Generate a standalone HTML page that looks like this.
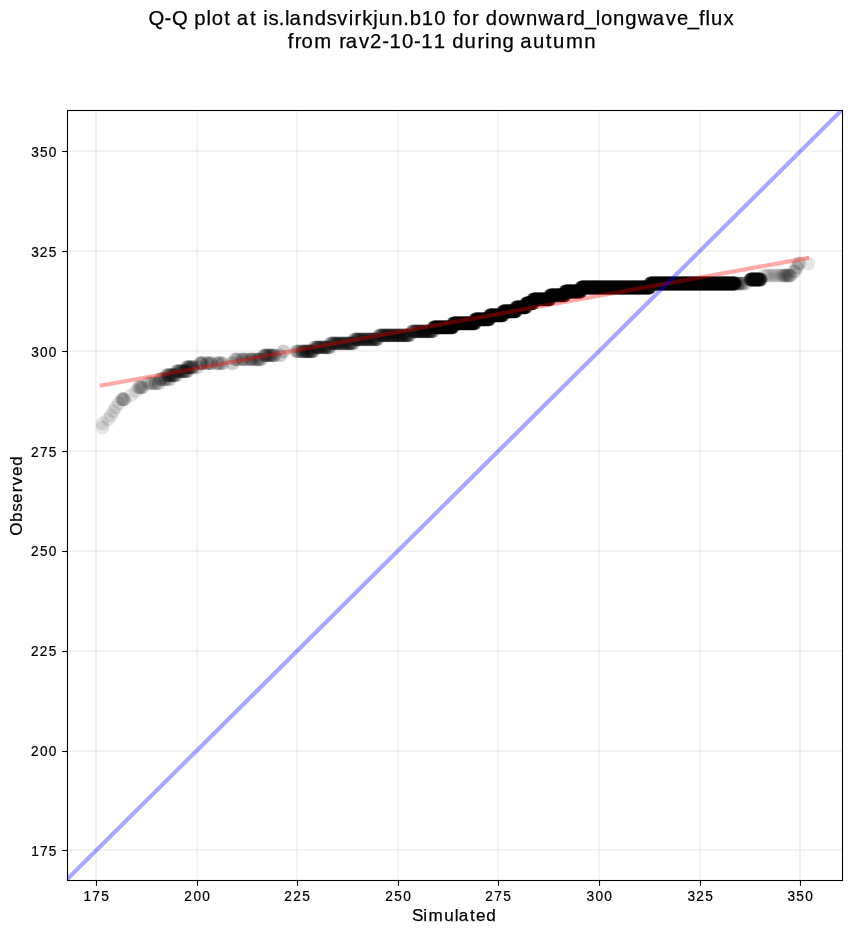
<!DOCTYPE html>
<html lang="en"><head><meta charset="utf-8"><title>Q-Q plot</title>
<style>
html,body{margin:0;padding:0;background:#fff;}
body{width:851px;height:934px;overflow:hidden;}
svg{display:block;}
text{font-family:"Liberation Sans",sans-serif;fill:#000;stroke:#000;stroke-width:0.25px;white-space:pre;}
.t{will-change:transform;}
</style></head><body>
<svg class="t" width="851" height="934" viewBox="0 0 851 934">
<defs><clipPath id="ax"><rect x="67.5" y="110.5" width="775.0" height="770.0"/></clipPath></defs>
<g fill="#b0b0b0" fill-opacity="0.15" shape-rendering="crispEdges" clip-path="url(#ax)">
<rect x="95" y="110.5" width="2" height="770.0"/><rect x="196" y="110.5" width="2" height="770.0"/><rect x="296" y="110.5" width="2" height="770.0"/><rect x="397" y="110.5" width="2" height="770.0"/><rect x="497" y="110.5" width="2" height="770.0"/><rect x="598" y="110.5" width="2" height="770.0"/><rect x="699" y="110.5" width="2" height="770.0"/><rect x="799" y="110.5" width="2" height="770.0"/>
<rect x="67.5" y="849" width="775.0" height="2"/><rect x="67.5" y="750" width="775.0" height="2"/><rect x="67.5" y="650" width="775.0" height="2"/><rect x="67.5" y="550" width="775.0" height="2"/><rect x="67.5" y="450" width="775.0" height="2"/><rect x="67.5" y="350" width="775.0" height="2"/><rect x="67.5" y="250" width="775.0" height="2"/><rect x="67.5" y="150" width="775.0" height="2"/>
</g>
<g fill="#000" fill-opacity="0.1" clip-path="url(#ax)">
<circle cx="102.4" cy="423.3" r="6.94"/><circle cx="102.4" cy="427.3" r="6.94"/><circle cx="108.2" cy="419.3" r="6.94"/><circle cx="110.9" cy="415.3" r="6.94"/><circle cx="113.5" cy="411.3" r="6.94"/><circle cx="115.6" cy="407.3" r="6.94"/>
<circle cx="118.8" cy="403.3" r="6.94"/><circle cx="121.8" cy="399.3" r="6.94"/><circle cx="122.6" cy="399.3" r="6.94"/><circle cx="123.2" cy="399.3" r="6.94"/><circle cx="123.9" cy="399.3" r="6.94"/><circle cx="124.6" cy="399.3" r="6.94"/>
<circle cx="131.0" cy="395.3" r="6.94"/><circle cx="136.2" cy="391.3" r="6.94"/><circle cx="138.5" cy="387.3" r="6.94"/><circle cx="139.5" cy="387.3" r="6.94"/><circle cx="140.3" cy="387.3" r="6.94"/><circle cx="141.0" cy="387.3" r="6.94"/>
<circle cx="141.8" cy="387.3" r="6.94"/><circle cx="142.8" cy="387.3" r="6.94"/><circle cx="148.1" cy="383.3" r="6.94"/><circle cx="149.0" cy="383.3" r="6.94"/><circle cx="151.6" cy="383.3" r="6.94"/><circle cx="152.1" cy="383.3" r="6.94"/>
<circle cx="154.6" cy="383.3" r="6.94"/><circle cx="155.5" cy="383.3" r="6.94"/><circle cx="155.9" cy="383.3" r="6.94"/><circle cx="158.7" cy="383.3" r="6.94"/><circle cx="158.9" cy="383.3" r="6.94"/><circle cx="160.3" cy="379.3" r="6.94"/>
<circle cx="160.5" cy="379.3" r="6.94"/><circle cx="161.5" cy="379.3" r="6.94"/><circle cx="163.3" cy="379.3" r="6.94"/><circle cx="164.6" cy="379.3" r="6.94"/><circle cx="165.3" cy="379.3" r="6.94"/><circle cx="165.8" cy="379.3" r="6.94"/>
<circle cx="166.2" cy="375.3" r="6.94"/><circle cx="166.9" cy="375.3" r="6.94"/><circle cx="167.6" cy="375.3" r="6.94"/><circle cx="167.8" cy="379.3" r="6.94"/><circle cx="168.4" cy="375.3" r="6.94"/><circle cx="168.7" cy="375.3" r="6.94"/>
<circle cx="168.8" cy="375.3" r="6.94"/><circle cx="169.4" cy="375.3" r="6.94"/><circle cx="169.6" cy="379.3" r="6.94"/><circle cx="169.7" cy="379.3" r="6.94"/><circle cx="170.3" cy="375.3" r="6.94"/><circle cx="171.3" cy="375.3" r="6.94"/>
<circle cx="171.7" cy="375.3" r="6.94"/><circle cx="172.5" cy="375.3" r="6.94"/><circle cx="173.2" cy="375.3" r="6.94"/><circle cx="173.5" cy="375.3" r="6.94"/><circle cx="174.2" cy="375.3" r="6.94"/><circle cx="174.3" cy="375.3" r="6.94"/>
<circle cx="174.8" cy="375.3" r="6.94"/><circle cx="175.7" cy="375.3" r="6.94"/><circle cx="176.2" cy="371.3" r="6.94"/><circle cx="176.6" cy="371.3" r="6.94"/><circle cx="177.0" cy="375.3" r="6.94"/><circle cx="177.6" cy="371.3" r="6.94"/>
<circle cx="178.0" cy="371.3" r="6.94"/><circle cx="178.4" cy="371.3" r="6.94"/><circle cx="179.7" cy="371.3" r="6.94"/><circle cx="180.1" cy="371.3" r="6.94"/><circle cx="180.2" cy="371.3" r="6.94"/><circle cx="181.2" cy="371.3" r="6.94"/>
<circle cx="181.7" cy="371.3" r="6.94"/><circle cx="182.8" cy="371.3" r="6.94"/><circle cx="183.2" cy="371.3" r="6.94"/><circle cx="183.2" cy="371.3" r="6.94"/><circle cx="184.2" cy="371.3" r="6.94"/><circle cx="184.8" cy="371.3" r="6.94"/>
<circle cx="185.2" cy="371.3" r="6.94"/><circle cx="186.0" cy="371.3" r="6.94"/><circle cx="186.3" cy="371.3" r="6.94"/><circle cx="186.5" cy="367.3" r="6.94"/><circle cx="187.0" cy="371.3" r="6.94"/><circle cx="187.1" cy="371.3" r="6.94"/>
<circle cx="187.1" cy="367.3" r="6.94"/><circle cx="187.4" cy="367.3" r="6.94"/><circle cx="188.2" cy="367.3" r="6.94"/><circle cx="188.4" cy="367.3" r="6.94"/><circle cx="189.2" cy="367.3" r="6.94"/><circle cx="189.6" cy="367.3" r="6.94"/>
<circle cx="190.1" cy="367.3" r="6.94"/><circle cx="190.5" cy="367.3" r="6.94"/><circle cx="191.6" cy="367.3" r="6.94"/><circle cx="192.2" cy="367.3" r="6.94"/><circle cx="192.2" cy="367.3" r="6.94"/><circle cx="192.9" cy="367.3" r="6.94"/>
<circle cx="193.0" cy="367.3" r="6.94"/><circle cx="196.3" cy="367.3" r="6.94"/><circle cx="197.8" cy="367.3" r="6.94"/><circle cx="200.3" cy="363.3" r="6.94"/><circle cx="200.5" cy="363.3" r="6.94"/><circle cx="200.7" cy="363.3" r="6.94"/>
<circle cx="201.4" cy="363.3" r="6.94"/><circle cx="202.3" cy="363.3" r="6.94"/><circle cx="202.7" cy="363.3" r="6.94"/><circle cx="206.8" cy="363.3" r="6.94"/><circle cx="207.1" cy="363.3" r="6.94"/><circle cx="207.9" cy="363.3" r="6.94"/>
<circle cx="208.6" cy="363.3" r="6.94"/><circle cx="210.5" cy="363.3" r="6.94"/><circle cx="210.9" cy="363.3" r="6.94"/><circle cx="211.6" cy="363.3" r="6.94"/><circle cx="216.7" cy="363.3" r="6.94"/><circle cx="217.9" cy="363.3" r="6.94"/>
<circle cx="218.7" cy="363.3" r="6.94"/><circle cx="219.6" cy="363.3" r="6.94"/><circle cx="220.8" cy="363.3" r="6.94"/><circle cx="222.5" cy="363.3" r="6.94"/><circle cx="223.0" cy="363.3" r="6.94"/><circle cx="232.0" cy="363.3" r="6.94"/>
<circle cx="232.8" cy="363.3" r="6.94"/><circle cx="235.0" cy="359.4" r="6.94"/><circle cx="235.6" cy="359.4" r="6.94"/><circle cx="236.9" cy="359.4" r="6.94"/><circle cx="238.2" cy="359.4" r="6.94"/><circle cx="241.6" cy="359.4" r="6.94"/>
<circle cx="242.0" cy="359.4" r="6.94"/><circle cx="243.4" cy="359.4" r="6.94"/><circle cx="243.6" cy="359.4" r="6.94"/><circle cx="245.3" cy="359.4" r="6.94"/><circle cx="246.8" cy="359.4" r="6.94"/><circle cx="249.2" cy="359.4" r="6.94"/>
<circle cx="250.7" cy="359.4" r="6.94"/><circle cx="250.9" cy="359.4" r="6.94"/><circle cx="251.2" cy="359.4" r="6.94"/><circle cx="253.1" cy="359.4" r="6.94"/><circle cx="253.9" cy="359.4" r="6.94"/><circle cx="255.2" cy="359.4" r="6.94"/>
<circle cx="257.0" cy="359.4" r="6.94"/><circle cx="257.3" cy="359.4" r="6.94"/><circle cx="257.9" cy="359.4" r="6.94"/><circle cx="259.0" cy="359.4" r="6.94"/><circle cx="259.6" cy="359.4" r="6.94"/><circle cx="260.1" cy="359.4" r="6.94"/>
<circle cx="262.0" cy="359.4" r="6.94"/><circle cx="263.8" cy="355.4" r="6.94"/><circle cx="264.7" cy="355.4" r="6.94"/><circle cx="265.3" cy="355.4" r="6.94"/><circle cx="265.3" cy="355.4" r="6.94"/><circle cx="266.1" cy="355.4" r="6.94"/>
<circle cx="266.3" cy="355.4" r="6.94"/><circle cx="267.7" cy="355.4" r="6.94"/><circle cx="267.9" cy="355.4" r="6.94"/><circle cx="268.4" cy="355.4" r="6.94"/><circle cx="269.4" cy="355.4" r="6.94"/><circle cx="270.0" cy="355.4" r="6.94"/>
<circle cx="271.0" cy="355.4" r="6.94"/><circle cx="271.3" cy="355.4" r="6.94"/><circle cx="271.9" cy="355.4" r="6.94"/><circle cx="272.9" cy="355.4" r="6.94"/><circle cx="273.5" cy="355.4" r="6.94"/><circle cx="274.7" cy="355.4" r="6.94"/>
<circle cx="274.8" cy="355.4" r="6.94"/><circle cx="279.5" cy="355.4" r="6.94"/><circle cx="280.4" cy="355.4" r="6.94"/><circle cx="283.0" cy="351.4" r="6.94"/><circle cx="284.0" cy="351.4" r="6.94"/><circle cx="296.0" cy="351.4" r="6.94"/>
<circle cx="296.7" cy="351.4" r="6.94"/><circle cx="297.7" cy="351.4" r="6.94"/><circle cx="298.5" cy="351.4" r="6.94"/><circle cx="298.9" cy="351.4" r="6.94"/><circle cx="301.1" cy="351.4" r="6.94"/><circle cx="301.9" cy="351.4" r="6.94"/>
<circle cx="302.1" cy="351.4" r="6.94"/><circle cx="302.8" cy="351.4" r="6.94"/><circle cx="302.8" cy="351.4" r="6.94"/><circle cx="304.0" cy="351.4" r="6.94"/><circle cx="304.5" cy="351.4" r="6.94"/><circle cx="304.8" cy="351.4" r="6.94"/>
<circle cx="305.6" cy="351.4" r="6.94"/><circle cx="305.9" cy="351.4" r="6.94"/><circle cx="305.9" cy="351.4" r="6.94"/><circle cx="307.3" cy="351.4" r="6.94"/><circle cx="307.3" cy="351.4" r="6.94"/><circle cx="307.3" cy="351.4" r="6.94"/>
<circle cx="308.0" cy="351.4" r="6.94"/><circle cx="308.1" cy="351.4" r="6.94"/><circle cx="309.0" cy="351.4" r="6.94"/><circle cx="309.9" cy="351.4" r="6.94"/><circle cx="310.2" cy="351.4" r="6.94"/><circle cx="310.4" cy="351.4" r="6.94"/>
<circle cx="310.5" cy="351.4" r="6.94"/><circle cx="311.0" cy="351.4" r="6.94"/><circle cx="311.2" cy="351.4" r="6.94"/><circle cx="312.3" cy="351.4" r="6.94"/><circle cx="312.5" cy="351.4" r="6.94"/><circle cx="313.1" cy="351.4" r="6.94"/>
<circle cx="313.1" cy="351.4" r="6.94"/><circle cx="314.0" cy="347.4" r="6.94"/><circle cx="315.2" cy="347.4" r="6.94"/><circle cx="316.0" cy="347.4" r="6.94"/><circle cx="316.3" cy="347.4" r="6.94"/><circle cx="316.8" cy="347.4" r="6.94"/>
<circle cx="317.3" cy="347.4" r="6.94"/><circle cx="317.7" cy="347.4" r="6.94"/><circle cx="317.8" cy="347.4" r="6.94"/><circle cx="318.6" cy="347.4" r="6.94"/><circle cx="318.9" cy="347.4" r="6.94"/><circle cx="319.0" cy="347.4" r="6.94"/>
<circle cx="319.5" cy="347.4" r="6.94"/><circle cx="320.4" cy="347.4" r="6.94"/><circle cx="320.9" cy="347.4" r="6.94"/><circle cx="322.0" cy="347.4" r="6.94"/><circle cx="322.7" cy="347.4" r="6.94"/><circle cx="322.9" cy="347.4" r="6.94"/>
<circle cx="323.9" cy="347.4" r="6.94"/><circle cx="324.5" cy="347.4" r="6.94"/><circle cx="324.8" cy="347.4" r="6.94"/><circle cx="325.0" cy="347.4" r="6.94"/><circle cx="325.1" cy="347.4" r="6.94"/><circle cx="325.7" cy="347.4" r="6.94"/>
<circle cx="326.1" cy="347.4" r="6.94"/><circle cx="326.7" cy="347.4" r="6.94"/><circle cx="327.8" cy="347.4" r="6.94"/><circle cx="328.6" cy="347.4" r="6.94"/><circle cx="329.1" cy="347.4" r="6.94"/><circle cx="329.2" cy="347.4" r="6.94"/>
<circle cx="329.9" cy="347.4" r="6.94"/><circle cx="330.3" cy="343.4" r="6.94"/><circle cx="330.6" cy="343.4" r="6.94"/><circle cx="331.5" cy="343.4" r="6.94"/><circle cx="332.3" cy="343.4" r="6.94"/><circle cx="332.7" cy="343.4" r="6.94"/>
<circle cx="333.2" cy="343.4" r="6.94"/><circle cx="333.4" cy="343.4" r="6.94"/><circle cx="333.5" cy="343.4" r="6.94"/><circle cx="334.7" cy="343.4" r="6.94"/><circle cx="334.8" cy="343.4" r="6.94"/><circle cx="335.9" cy="343.4" r="6.94"/>
<circle cx="336.4" cy="343.4" r="6.94"/><circle cx="336.6" cy="343.4" r="6.94"/><circle cx="336.9" cy="343.4" r="6.94"/><circle cx="338.1" cy="343.4" r="6.94"/><circle cx="338.2" cy="343.4" r="6.94"/><circle cx="338.4" cy="343.4" r="6.94"/>
<circle cx="338.7" cy="343.4" r="6.94"/><circle cx="339.2" cy="343.4" r="6.94"/><circle cx="340.7" cy="343.4" r="6.94"/><circle cx="340.8" cy="343.4" r="6.94"/><circle cx="341.1" cy="343.4" r="6.94"/><circle cx="342.1" cy="343.4" r="6.94"/>
<circle cx="342.9" cy="343.4" r="6.94"/><circle cx="343.0" cy="343.4" r="6.94"/><circle cx="343.1" cy="343.4" r="6.94"/><circle cx="343.9" cy="343.4" r="6.94"/><circle cx="343.9" cy="343.4" r="6.94"/><circle cx="344.3" cy="343.4" r="6.94"/>
<circle cx="346.0" cy="343.4" r="6.94"/><circle cx="346.1" cy="343.4" r="6.94"/><circle cx="346.5" cy="343.4" r="6.94"/><circle cx="347.4" cy="343.4" r="6.94"/><circle cx="347.5" cy="343.4" r="6.94"/><circle cx="348.5" cy="343.4" r="6.94"/>
<circle cx="348.7" cy="343.4" r="6.94"/><circle cx="348.9" cy="343.4" r="6.94"/><circle cx="349.3" cy="343.4" r="6.94"/><circle cx="349.8" cy="343.4" r="6.94"/><circle cx="350.3" cy="343.4" r="6.94"/><circle cx="351.2" cy="343.4" r="6.94"/>
<circle cx="351.4" cy="343.4" r="6.94"/><circle cx="352.1" cy="343.4" r="6.94"/><circle cx="352.2" cy="343.4" r="6.94"/><circle cx="353.6" cy="343.4" r="6.94"/><circle cx="353.7" cy="343.4" r="6.94"/><circle cx="354.2" cy="339.4" r="6.94"/>
<circle cx="354.8" cy="339.4" r="6.94"/><circle cx="355.6" cy="339.4" r="6.94"/><circle cx="355.7" cy="339.4" r="6.94"/><circle cx="356.6" cy="339.4" r="6.94"/><circle cx="356.6" cy="339.4" r="6.94"/><circle cx="357.2" cy="339.4" r="6.94"/>
<circle cx="357.5" cy="339.4" r="6.94"/><circle cx="357.6" cy="339.4" r="6.94"/><circle cx="358.5" cy="339.4" r="6.94"/><circle cx="358.7" cy="339.4" r="6.94"/><circle cx="358.9" cy="339.4" r="6.94"/><circle cx="360.1" cy="339.4" r="6.94"/>
<circle cx="360.3" cy="339.4" r="6.94"/><circle cx="360.9" cy="339.4" r="6.94"/><circle cx="361.7" cy="339.4" r="6.94"/><circle cx="362.0" cy="339.4" r="6.94"/><circle cx="362.2" cy="339.4" r="6.94"/><circle cx="362.9" cy="339.4" r="6.94"/>
<circle cx="363.4" cy="339.4" r="6.94"/><circle cx="363.9" cy="339.4" r="6.94"/><circle cx="364.2" cy="339.4" r="6.94"/><circle cx="364.9" cy="339.4" r="6.94"/><circle cx="365.0" cy="339.4" r="6.94"/><circle cx="365.5" cy="339.4" r="6.94"/>
<circle cx="366.6" cy="339.4" r="6.94"/><circle cx="366.7" cy="339.4" r="6.94"/><circle cx="367.3" cy="339.4" r="6.94"/><circle cx="368.0" cy="339.4" r="6.94"/><circle cx="368.6" cy="339.4" r="6.94"/><circle cx="368.6" cy="339.4" r="6.94"/>
<circle cx="369.2" cy="339.4" r="6.94"/><circle cx="369.6" cy="339.4" r="6.94"/><circle cx="370.1" cy="339.4" r="6.94"/><circle cx="370.8" cy="339.4" r="6.94"/><circle cx="371.0" cy="339.4" r="6.94"/><circle cx="371.6" cy="339.4" r="6.94"/>
<circle cx="372.0" cy="339.4" r="6.94"/><circle cx="373.0" cy="339.4" r="6.94"/><circle cx="373.2" cy="339.4" r="6.94"/><circle cx="373.9" cy="339.4" r="6.94"/><circle cx="374.1" cy="339.4" r="6.94"/><circle cx="374.4" cy="339.4" r="6.94"/>
<circle cx="374.9" cy="339.4" r="6.94"/><circle cx="375.9" cy="339.4" r="6.94"/><circle cx="375.9" cy="339.4" r="6.94"/><circle cx="376.2" cy="339.4" r="6.94"/><circle cx="376.4" cy="339.4" r="6.94"/><circle cx="377.2" cy="339.4" r="6.94"/>
<circle cx="377.3" cy="339.4" r="6.94"/><circle cx="379.0" cy="335.4" r="6.94"/><circle cx="379.2" cy="335.4" r="6.94"/><circle cx="380.2" cy="335.4" r="6.94"/><circle cx="380.7" cy="335.4" r="6.94"/><circle cx="380.9" cy="335.4" r="6.94"/>
<circle cx="381.2" cy="335.4" r="6.94"/><circle cx="381.9" cy="335.4" r="6.94"/><circle cx="382.1" cy="335.4" r="6.94"/><circle cx="382.2" cy="335.4" r="6.94"/><circle cx="383.2" cy="335.4" r="6.94"/><circle cx="383.4" cy="335.4" r="6.94"/>
<circle cx="383.7" cy="335.4" r="6.94"/><circle cx="384.4" cy="335.4" r="6.94"/><circle cx="384.5" cy="335.4" r="6.94"/><circle cx="384.9" cy="335.4" r="6.94"/><circle cx="385.8" cy="335.4" r="6.94"/><circle cx="385.8" cy="335.4" r="6.94"/>
<circle cx="386.1" cy="335.4" r="6.94"/><circle cx="386.5" cy="335.4" r="6.94"/><circle cx="387.0" cy="335.4" r="6.94"/><circle cx="387.2" cy="335.4" r="6.94"/><circle cx="387.5" cy="335.4" r="6.94"/><circle cx="388.0" cy="335.4" r="6.94"/>
<circle cx="388.5" cy="335.4" r="6.94"/><circle cx="388.8" cy="335.4" r="6.94"/><circle cx="389.5" cy="335.4" r="6.94"/><circle cx="389.7" cy="335.4" r="6.94"/><circle cx="389.8" cy="335.4" r="6.94"/><circle cx="390.5" cy="335.4" r="6.94"/>
<circle cx="391.2" cy="335.4" r="6.94"/><circle cx="391.4" cy="335.4" r="6.94"/><circle cx="391.5" cy="335.4" r="6.94"/><circle cx="392.7" cy="335.4" r="6.94"/><circle cx="392.9" cy="335.4" r="6.94"/><circle cx="393.1" cy="335.4" r="6.94"/>
<circle cx="393.5" cy="335.4" r="6.94"/><circle cx="393.7" cy="335.4" r="6.94"/><circle cx="393.8" cy="335.4" r="6.94"/><circle cx="394.9" cy="335.4" r="6.94"/><circle cx="395.0" cy="335.4" r="6.94"/><circle cx="395.2" cy="335.4" r="6.94"/>
<circle cx="395.9" cy="335.4" r="6.94"/><circle cx="396.7" cy="335.4" r="6.94"/><circle cx="396.9" cy="335.4" r="6.94"/><circle cx="397.1" cy="335.4" r="6.94"/><circle cx="397.2" cy="335.4" r="6.94"/><circle cx="398.4" cy="335.4" r="6.94"/>
<circle cx="398.4" cy="335.4" r="6.94"/><circle cx="398.8" cy="335.4" r="6.94"/><circle cx="399.0" cy="335.4" r="6.94"/><circle cx="399.2" cy="335.4" r="6.94"/><circle cx="400.2" cy="335.4" r="6.94"/><circle cx="400.3" cy="335.4" r="6.94"/>
<circle cx="400.4" cy="335.4" r="6.94"/><circle cx="401.7" cy="335.4" r="6.94"/><circle cx="401.8" cy="335.4" r="6.94"/><circle cx="402.0" cy="335.4" r="6.94"/><circle cx="402.3" cy="335.4" r="6.94"/><circle cx="402.8" cy="335.4" r="6.94"/>
<circle cx="403.2" cy="335.4" r="6.94"/><circle cx="404.0" cy="335.4" r="6.94"/><circle cx="404.0" cy="335.4" r="6.94"/><circle cx="404.3" cy="335.4" r="6.94"/><circle cx="405.0" cy="335.4" r="6.94"/><circle cx="405.5" cy="335.4" r="6.94"/>
<circle cx="405.7" cy="335.4" r="6.94"/><circle cx="405.8" cy="335.4" r="6.94"/><circle cx="406.6" cy="335.4" r="6.94"/><circle cx="406.7" cy="335.4" r="6.94"/><circle cx="407.0" cy="335.4" r="6.94"/><circle cx="407.4" cy="335.4" r="6.94"/>
<circle cx="407.7" cy="335.4" r="6.94"/><circle cx="408.3" cy="335.4" r="6.94"/><circle cx="408.8" cy="335.4" r="6.94"/><circle cx="409.2" cy="335.4" r="6.94"/><circle cx="410.0" cy="335.4" r="6.94"/><circle cx="412.0" cy="331.4" r="6.94"/>
<circle cx="412.5" cy="331.4" r="6.94"/><circle cx="412.6" cy="331.4" r="6.94"/><circle cx="413.1" cy="331.4" r="6.94"/><circle cx="413.2" cy="331.4" r="6.94"/><circle cx="413.8" cy="331.4" r="6.94"/><circle cx="413.9" cy="331.4" r="6.94"/>
<circle cx="414.9" cy="331.4" r="6.94"/><circle cx="415.1" cy="331.4" r="6.94"/><circle cx="415.1" cy="331.4" r="6.94"/><circle cx="415.7" cy="331.4" r="6.94"/><circle cx="416.1" cy="331.4" r="6.94"/><circle cx="416.5" cy="331.4" r="6.94"/>
<circle cx="417.1" cy="331.4" r="6.94"/><circle cx="417.1" cy="331.4" r="6.94"/><circle cx="417.5" cy="331.4" r="6.94"/><circle cx="418.2" cy="331.4" r="6.94"/><circle cx="418.2" cy="331.4" r="6.94"/><circle cx="418.6" cy="331.4" r="6.94"/>
<circle cx="419.1" cy="331.4" r="6.94"/><circle cx="419.6" cy="331.4" r="6.94"/><circle cx="419.8" cy="331.4" r="6.94"/><circle cx="420.3" cy="331.4" r="6.94"/><circle cx="420.6" cy="331.4" r="6.94"/><circle cx="420.9" cy="331.4" r="6.94"/>
<circle cx="421.1" cy="331.4" r="6.94"/><circle cx="421.4" cy="331.4" r="6.94"/><circle cx="421.5" cy="331.4" r="6.94"/><circle cx="421.9" cy="331.4" r="6.94"/><circle cx="422.2" cy="331.4" r="6.94"/><circle cx="423.1" cy="331.4" r="6.94"/>
<circle cx="423.1" cy="331.4" r="6.94"/><circle cx="423.4" cy="331.4" r="6.94"/><circle cx="423.6" cy="331.4" r="6.94"/><circle cx="424.7" cy="331.4" r="6.94"/><circle cx="425.0" cy="331.4" r="6.94"/><circle cx="425.2" cy="331.4" r="6.94"/>
<circle cx="425.2" cy="331.4" r="6.94"/><circle cx="425.6" cy="331.4" r="6.94"/><circle cx="426.0" cy="331.4" r="6.94"/><circle cx="426.5" cy="331.4" r="6.94"/><circle cx="426.6" cy="331.4" r="6.94"/><circle cx="427.2" cy="331.4" r="6.94"/>
<circle cx="427.4" cy="331.4" r="6.94"/><circle cx="428.3" cy="331.4" r="6.94"/><circle cx="428.7" cy="331.4" r="6.94"/><circle cx="428.7" cy="331.4" r="6.94"/><circle cx="428.8" cy="331.4" r="6.94"/><circle cx="429.6" cy="331.4" r="6.94"/>
<circle cx="429.8" cy="331.4" r="6.94"/><circle cx="430.0" cy="331.4" r="6.94"/><circle cx="430.0" cy="331.4" r="6.94"/><circle cx="430.7" cy="331.4" r="6.94"/><circle cx="431.1" cy="331.4" r="6.94"/><circle cx="431.5" cy="331.4" r="6.94"/>
<circle cx="431.6" cy="331.4" r="6.94"/><circle cx="432.2" cy="331.4" r="6.94"/><circle cx="432.2" cy="331.4" r="6.94"/><circle cx="432.8" cy="331.4" r="6.94"/><circle cx="433.0" cy="331.4" r="6.94"/><circle cx="734.2" cy="283.5" r="6.94"/>
<circle cx="734.2" cy="283.5" r="6.94"/><circle cx="734.8" cy="283.5" r="6.94"/><circle cx="735.8" cy="283.5" r="6.94"/><circle cx="736.3" cy="283.5" r="6.94"/><circle cx="737.4" cy="283.5" r="6.94"/><circle cx="737.9" cy="283.5" r="6.94"/>
<circle cx="738.9" cy="283.5" r="6.94"/><circle cx="739.3" cy="283.5" r="6.94"/><circle cx="740.0" cy="283.5" r="6.94"/><circle cx="741.5" cy="283.5" r="6.94"/><circle cx="741.7" cy="283.5" r="6.94"/><circle cx="742.5" cy="283.5" r="6.94"/>
<circle cx="744.4" cy="283.5" r="6.94"/><circle cx="745.6" cy="283.5" r="6.94"/><circle cx="750.2" cy="279.5" r="6.94"/><circle cx="750.2" cy="279.5" r="6.94"/><circle cx="750.3" cy="279.5" r="6.94"/><circle cx="750.7" cy="279.5" r="6.94"/>
<circle cx="750.9" cy="279.5" r="6.94"/><circle cx="750.9" cy="279.5" r="6.94"/><circle cx="751.1" cy="279.5" r="6.94"/><circle cx="751.2" cy="279.5" r="6.94"/><circle cx="751.3" cy="279.5" r="6.94"/><circle cx="751.5" cy="279.5" r="6.94"/>
<circle cx="751.7" cy="279.5" r="6.94"/><circle cx="751.9" cy="279.5" r="6.94"/><circle cx="752.1" cy="279.5" r="6.94"/><circle cx="752.2" cy="279.5" r="6.94"/><circle cx="752.3" cy="279.5" r="6.94"/><circle cx="752.6" cy="279.5" r="6.94"/>
<circle cx="752.7" cy="279.5" r="6.94"/><circle cx="752.8" cy="279.5" r="6.94"/><circle cx="752.8" cy="279.5" r="6.94"/><circle cx="752.9" cy="279.5" r="6.94"/><circle cx="753.1" cy="279.5" r="6.94"/><circle cx="753.3" cy="279.5" r="6.94"/>
<circle cx="753.4" cy="279.5" r="6.94"/><circle cx="753.8" cy="279.5" r="6.94"/><circle cx="753.9" cy="279.5" r="6.94"/><circle cx="754.1" cy="279.5" r="6.94"/><circle cx="754.2" cy="279.5" r="6.94"/><circle cx="754.4" cy="279.5" r="6.94"/>
<circle cx="754.4" cy="279.5" r="6.94"/><circle cx="754.5" cy="279.5" r="6.94"/><circle cx="754.9" cy="279.5" r="6.94"/><circle cx="755.0" cy="279.5" r="6.94"/><circle cx="755.1" cy="279.5" r="6.94"/><circle cx="755.3" cy="279.5" r="6.94"/>
<circle cx="755.4" cy="279.5" r="6.94"/><circle cx="755.5" cy="279.5" r="6.94"/><circle cx="755.8" cy="279.5" r="6.94"/><circle cx="755.8" cy="279.5" r="6.94"/><circle cx="755.9" cy="279.5" r="6.94"/><circle cx="756.1" cy="279.5" r="6.94"/>
<circle cx="756.4" cy="279.5" r="6.94"/><circle cx="756.5" cy="279.5" r="6.94"/><circle cx="756.8" cy="279.5" r="6.94"/><circle cx="757.0" cy="279.5" r="6.94"/><circle cx="757.0" cy="279.5" r="6.94"/><circle cx="757.1" cy="279.5" r="6.94"/>
<circle cx="757.3" cy="279.5" r="6.94"/><circle cx="757.5" cy="279.5" r="6.94"/><circle cx="757.7" cy="279.5" r="6.94"/><circle cx="757.8" cy="279.5" r="6.94"/><circle cx="757.9" cy="279.5" r="6.94"/><circle cx="758.0" cy="279.5" r="6.94"/>
<circle cx="758.1" cy="279.5" r="6.94"/><circle cx="758.3" cy="279.5" r="6.94"/><circle cx="758.6" cy="279.5" r="6.94"/><circle cx="758.7" cy="279.5" r="6.94"/><circle cx="758.9" cy="279.5" r="6.94"/><circle cx="758.9" cy="279.5" r="6.94"/>
<circle cx="759.0" cy="279.5" r="6.94"/><circle cx="759.3" cy="279.5" r="6.94"/><circle cx="759.6" cy="279.5" r="6.94"/><circle cx="759.7" cy="279.5" r="6.94"/><circle cx="759.9" cy="279.5" r="6.94"/><circle cx="759.9" cy="279.5" r="6.94"/>
<circle cx="760.1" cy="279.5" r="6.94"/><circle cx="760.3" cy="279.5" r="6.94"/><circle cx="760.4" cy="279.5" r="6.94"/><circle cx="760.5" cy="279.5" r="6.94"/><circle cx="760.8" cy="279.5" r="6.94"/><circle cx="760.9" cy="279.5" r="6.94"/>
<circle cx="764.5" cy="275.5" r="6.94"/><circle cx="767.0" cy="275.5" r="6.94"/><circle cx="769.0" cy="275.5" r="6.94"/><circle cx="772.0" cy="275.5" r="6.94"/><circle cx="774.5" cy="275.5" r="6.94"/><circle cx="777.0" cy="275.5" r="6.94"/>
<circle cx="779.5" cy="275.5" r="6.94"/><circle cx="781.5" cy="275.5" r="6.94"/><circle cx="783.0" cy="275.5" r="6.94"/><circle cx="784.2" cy="275.5" r="6.94"/><circle cx="785.2" cy="275.5" r="6.94"/><circle cx="786.0" cy="275.5" r="6.94"/>
<circle cx="786.8" cy="275.5" r="6.94"/><circle cx="787.6" cy="275.5" r="6.94"/><circle cx="788.4" cy="275.5" r="6.94"/><circle cx="789.2" cy="275.5" r="6.94"/><circle cx="790.0" cy="275.5" r="6.94"/><circle cx="791.0" cy="275.5" r="6.94"/>
<circle cx="793.8" cy="271.5" r="6.94"/><circle cx="795.0" cy="271.5" r="6.94"/><circle cx="796.5" cy="267.5" r="6.94"/><circle cx="797.5" cy="267.5" r="6.94"/><circle cx="798.5" cy="263.5" r="6.94"/><circle cx="799.5" cy="263.5" r="6.94"/>
<circle cx="808.1" cy="263.5" r="6.94"/>
</g>
<g fill="#000" fill-opacity="0.3" clip-path="url(#ax)">
<circle cx="433.7" cy="327.4" r="6.94"/><circle cx="434.1" cy="327.4" r="6.94"/><circle cx="434.5" cy="327.4" r="6.94"/><circle cx="434.9" cy="327.4" r="6.94"/><circle cx="435.3" cy="327.4" r="6.94"/><circle cx="435.6" cy="327.4" r="6.94"/>
<circle cx="436.0" cy="327.4" r="6.94"/><circle cx="436.4" cy="327.4" r="6.94"/><circle cx="436.8" cy="327.4" r="6.94"/><circle cx="437.2" cy="327.4" r="6.94"/><circle cx="437.6" cy="327.4" r="6.94"/><circle cx="438.0" cy="327.4" r="6.94"/>
<circle cx="438.4" cy="327.4" r="6.94"/><circle cx="438.8" cy="327.4" r="6.94"/><circle cx="439.2" cy="327.4" r="6.94"/><circle cx="439.5" cy="327.4" r="6.94"/><circle cx="439.9" cy="327.4" r="6.94"/><circle cx="440.3" cy="327.4" r="6.94"/>
<circle cx="440.7" cy="327.4" r="6.94"/><circle cx="441.1" cy="327.4" r="6.94"/><circle cx="441.5" cy="327.4" r="6.94"/><circle cx="441.9" cy="327.4" r="6.94"/><circle cx="442.3" cy="327.4" r="6.94"/><circle cx="442.7" cy="327.4" r="6.94"/>
<circle cx="443.1" cy="327.4" r="6.94"/><circle cx="443.4" cy="327.4" r="6.94"/><circle cx="443.8" cy="327.4" r="6.94"/><circle cx="444.2" cy="327.4" r="6.94"/><circle cx="444.6" cy="327.4" r="6.94"/><circle cx="445.0" cy="327.4" r="6.94"/>
<circle cx="445.4" cy="327.4" r="6.94"/><circle cx="445.8" cy="327.4" r="6.94"/><circle cx="446.2" cy="327.4" r="6.94"/><circle cx="446.6" cy="327.4" r="6.94"/><circle cx="447.0" cy="327.4" r="6.94"/><circle cx="447.3" cy="327.4" r="6.94"/>
<circle cx="447.7" cy="327.4" r="6.94"/><circle cx="448.1" cy="327.4" r="6.94"/><circle cx="448.5" cy="327.4" r="6.94"/><circle cx="448.9" cy="327.4" r="6.94"/><circle cx="449.3" cy="327.4" r="6.94"/><circle cx="449.7" cy="327.4" r="6.94"/>
<circle cx="450.1" cy="327.4" r="6.94"/><circle cx="450.5" cy="327.4" r="6.94"/><circle cx="450.9" cy="327.4" r="6.94"/><circle cx="451.2" cy="327.4" r="6.94"/><circle cx="451.6" cy="327.4" r="6.94"/><circle cx="452.0" cy="327.4" r="6.94"/>
<circle cx="452.4" cy="327.4" r="6.94"/><circle cx="452.8" cy="327.4" r="6.94"/><circle cx="453.2" cy="323.4" r="6.94"/><circle cx="453.6" cy="323.4" r="6.94"/><circle cx="454.0" cy="323.4" r="6.94"/><circle cx="454.4" cy="323.4" r="6.94"/>
<circle cx="454.8" cy="323.4" r="6.94"/><circle cx="455.2" cy="323.4" r="6.94"/><circle cx="455.6" cy="323.4" r="6.94"/><circle cx="455.9" cy="323.4" r="6.94"/><circle cx="456.3" cy="323.4" r="6.94"/><circle cx="456.7" cy="323.4" r="6.94"/>
<circle cx="457.1" cy="323.4" r="6.94"/><circle cx="457.5" cy="323.4" r="6.94"/><circle cx="457.9" cy="323.4" r="6.94"/><circle cx="458.3" cy="323.4" r="6.94"/><circle cx="458.7" cy="323.4" r="6.94"/><circle cx="459.1" cy="323.4" r="6.94"/>
<circle cx="459.5" cy="323.4" r="6.94"/><circle cx="459.9" cy="323.4" r="6.94"/><circle cx="460.3" cy="323.4" r="6.94"/><circle cx="460.7" cy="323.4" r="6.94"/><circle cx="461.1" cy="323.4" r="6.94"/><circle cx="461.4" cy="323.4" r="6.94"/>
<circle cx="461.8" cy="323.4" r="6.94"/><circle cx="462.2" cy="323.4" r="6.94"/><circle cx="462.6" cy="323.4" r="6.94"/><circle cx="463.0" cy="323.4" r="6.94"/><circle cx="463.4" cy="323.4" r="6.94"/><circle cx="463.8" cy="323.4" r="6.94"/>
<circle cx="464.2" cy="323.4" r="6.94"/><circle cx="464.6" cy="323.4" r="6.94"/><circle cx="465.0" cy="323.4" r="6.94"/><circle cx="465.4" cy="323.4" r="6.94"/><circle cx="465.8" cy="323.4" r="6.94"/><circle cx="466.2" cy="323.4" r="6.94"/>
<circle cx="466.6" cy="323.4" r="6.94"/><circle cx="466.9" cy="323.4" r="6.94"/><circle cx="467.3" cy="323.4" r="6.94"/><circle cx="467.7" cy="323.4" r="6.94"/><circle cx="468.1" cy="323.4" r="6.94"/><circle cx="468.5" cy="323.4" r="6.94"/>
<circle cx="468.9" cy="323.4" r="6.94"/><circle cx="469.3" cy="323.4" r="6.94"/><circle cx="469.7" cy="323.4" r="6.94"/><circle cx="470.1" cy="323.4" r="6.94"/><circle cx="470.5" cy="323.4" r="6.94"/><circle cx="470.9" cy="323.4" r="6.94"/>
<circle cx="471.3" cy="323.4" r="6.94"/><circle cx="471.7" cy="323.4" r="6.94"/><circle cx="472.1" cy="323.4" r="6.94"/><circle cx="472.4" cy="323.4" r="6.94"/><circle cx="472.8" cy="323.4" r="6.94"/><circle cx="473.2" cy="323.4" r="6.94"/>
<circle cx="473.6" cy="323.4" r="6.94"/><circle cx="474.0" cy="323.4" r="6.94"/><circle cx="474.4" cy="323.4" r="6.94"/><circle cx="474.8" cy="323.4" r="6.94"/><circle cx="475.2" cy="319.4" r="6.94"/><circle cx="475.6" cy="319.4" r="6.94"/>
<circle cx="476.0" cy="319.4" r="6.94"/><circle cx="476.3" cy="319.4" r="6.94"/><circle cx="476.7" cy="319.4" r="6.94"/><circle cx="477.1" cy="319.4" r="6.94"/><circle cx="477.5" cy="319.4" r="6.94"/><circle cx="477.9" cy="319.4" r="6.94"/>
<circle cx="478.2" cy="319.4" r="6.94"/><circle cx="478.6" cy="319.4" r="6.94"/><circle cx="479.0" cy="319.4" r="6.94"/><circle cx="479.4" cy="319.4" r="6.94"/><circle cx="479.8" cy="319.4" r="6.94"/><circle cx="480.2" cy="319.4" r="6.94"/>
<circle cx="480.5" cy="319.4" r="6.94"/><circle cx="480.9" cy="319.4" r="6.94"/><circle cx="481.3" cy="319.4" r="6.94"/><circle cx="481.7" cy="319.4" r="6.94"/><circle cx="482.1" cy="319.4" r="6.94"/><circle cx="482.4" cy="319.4" r="6.94"/>
<circle cx="482.8" cy="319.4" r="6.94"/><circle cx="483.2" cy="319.4" r="6.94"/><circle cx="483.6" cy="319.4" r="6.94"/><circle cx="484.0" cy="319.4" r="6.94"/><circle cx="484.3" cy="319.4" r="6.94"/><circle cx="484.7" cy="319.4" r="6.94"/>
<circle cx="485.1" cy="319.4" r="6.94"/><circle cx="485.5" cy="319.4" r="6.94"/><circle cx="485.9" cy="319.4" r="6.94"/><circle cx="486.3" cy="319.4" r="6.94"/><circle cx="486.6" cy="319.4" r="6.94"/><circle cx="487.0" cy="319.4" r="6.94"/>
<circle cx="487.4" cy="319.4" r="6.94"/><circle cx="487.8" cy="319.4" r="6.94"/><circle cx="488.2" cy="319.4" r="6.94"/><circle cx="488.5" cy="319.4" r="6.94"/><circle cx="488.9" cy="319.4" r="6.94"/><circle cx="489.3" cy="319.4" r="6.94"/>
<circle cx="489.7" cy="315.4" r="6.94"/><circle cx="490.1" cy="315.4" r="6.94"/><circle cx="490.4" cy="315.4" r="6.94"/><circle cx="490.8" cy="315.4" r="6.94"/><circle cx="491.2" cy="315.4" r="6.94"/><circle cx="491.6" cy="315.4" r="6.94"/>
<circle cx="491.9" cy="315.4" r="6.94"/><circle cx="492.3" cy="315.4" r="6.94"/><circle cx="492.7" cy="315.4" r="6.94"/><circle cx="493.1" cy="315.4" r="6.94"/><circle cx="493.4" cy="315.4" r="6.94"/><circle cx="493.8" cy="315.4" r="6.94"/>
<circle cx="494.2" cy="315.4" r="6.94"/><circle cx="494.6" cy="315.4" r="6.94"/><circle cx="494.9" cy="315.4" r="6.94"/><circle cx="495.3" cy="315.4" r="6.94"/><circle cx="495.7" cy="315.4" r="6.94"/><circle cx="496.1" cy="315.4" r="6.94"/>
<circle cx="496.4" cy="315.4" r="6.94"/><circle cx="496.8" cy="315.4" r="6.94"/><circle cx="497.2" cy="315.4" r="6.94"/><circle cx="497.6" cy="315.4" r="6.94"/><circle cx="497.9" cy="315.4" r="6.94"/><circle cx="498.3" cy="315.4" r="6.94"/>
<circle cx="498.7" cy="315.4" r="6.94"/><circle cx="499.1" cy="315.4" r="6.94"/><circle cx="499.4" cy="315.4" r="6.94"/><circle cx="499.8" cy="315.4" r="6.94"/><circle cx="500.2" cy="315.4" r="6.94"/><circle cx="500.6" cy="315.4" r="6.94"/>
<circle cx="500.9" cy="315.4" r="6.94"/><circle cx="501.3" cy="315.4" r="6.94"/><circle cx="501.7" cy="315.4" r="6.94"/><circle cx="502.1" cy="315.4" r="6.94"/><circle cx="502.4" cy="315.4" r="6.94"/><circle cx="502.8" cy="315.4" r="6.94"/>
<circle cx="503.2" cy="311.4" r="6.94"/><circle cx="503.5" cy="311.4" r="6.94"/><circle cx="503.9" cy="311.4" r="6.94"/><circle cx="504.3" cy="311.4" r="6.94"/><circle cx="504.6" cy="311.4" r="6.94"/><circle cx="505.0" cy="311.4" r="6.94"/>
<circle cx="505.3" cy="311.4" r="6.94"/><circle cx="505.7" cy="311.4" r="6.94"/><circle cx="506.1" cy="311.4" r="6.94"/><circle cx="506.4" cy="311.4" r="6.94"/><circle cx="506.8" cy="311.4" r="6.94"/><circle cx="507.2" cy="311.4" r="6.94"/>
<circle cx="507.5" cy="311.4" r="6.94"/><circle cx="507.9" cy="311.4" r="6.94"/><circle cx="508.2" cy="311.4" r="6.94"/><circle cx="508.6" cy="311.4" r="6.94"/><circle cx="509.0" cy="311.4" r="6.94"/><circle cx="509.3" cy="311.4" r="6.94"/>
<circle cx="509.7" cy="311.4" r="6.94"/><circle cx="510.0" cy="311.4" r="6.94"/><circle cx="510.4" cy="311.4" r="6.94"/><circle cx="510.8" cy="311.4" r="6.94"/><circle cx="511.1" cy="311.4" r="6.94"/><circle cx="511.5" cy="311.4" r="6.94"/>
<circle cx="511.8" cy="311.4" r="6.94"/><circle cx="512.2" cy="311.4" r="6.94"/><circle cx="512.6" cy="311.4" r="6.94"/><circle cx="512.9" cy="311.4" r="6.94"/><circle cx="513.3" cy="311.4" r="6.94"/><circle cx="513.7" cy="311.4" r="6.94"/>
<circle cx="514.0" cy="311.4" r="6.94"/><circle cx="514.4" cy="311.4" r="6.94"/><circle cx="514.7" cy="311.4" r="6.94"/><circle cx="515.1" cy="311.4" r="6.94"/><circle cx="515.5" cy="311.4" r="6.94"/><circle cx="515.8" cy="311.4" r="6.94"/>
<circle cx="516.2" cy="307.4" r="6.94"/><circle cx="516.6" cy="307.4" r="6.94"/><circle cx="517.0" cy="307.4" r="6.94"/><circle cx="517.3" cy="307.4" r="6.94"/><circle cx="517.7" cy="307.4" r="6.94"/><circle cx="518.1" cy="307.4" r="6.94"/>
<circle cx="518.5" cy="307.4" r="6.94"/><circle cx="518.9" cy="307.4" r="6.94"/><circle cx="519.3" cy="307.4" r="6.94"/><circle cx="519.7" cy="307.4" r="6.94"/><circle cx="520.0" cy="307.4" r="6.94"/><circle cx="520.4" cy="307.4" r="6.94"/>
<circle cx="520.8" cy="307.4" r="6.94"/><circle cx="521.2" cy="307.4" r="6.94"/><circle cx="521.6" cy="307.4" r="6.94"/><circle cx="522.0" cy="307.4" r="6.94"/><circle cx="522.3" cy="307.4" r="6.94"/><circle cx="522.7" cy="307.4" r="6.94"/>
<circle cx="523.1" cy="307.4" r="6.94"/><circle cx="523.5" cy="307.4" r="6.94"/><circle cx="523.9" cy="307.4" r="6.94"/><circle cx="524.3" cy="307.4" r="6.94"/><circle cx="524.7" cy="307.4" r="6.94"/><circle cx="525.0" cy="307.4" r="6.94"/>
<circle cx="525.4" cy="307.4" r="6.94"/><circle cx="525.8" cy="307.4" r="6.94"/><circle cx="526.2" cy="303.4" r="6.94"/><circle cx="526.5" cy="303.4" r="6.94"/><circle cx="526.9" cy="303.4" r="6.94"/><circle cx="527.2" cy="303.4" r="6.94"/>
<circle cx="527.6" cy="303.4" r="6.94"/><circle cx="527.9" cy="303.4" r="6.94"/><circle cx="528.3" cy="303.4" r="6.94"/><circle cx="528.6" cy="303.4" r="6.94"/><circle cx="529.0" cy="303.4" r="6.94"/><circle cx="529.3" cy="303.4" r="6.94"/>
<circle cx="529.7" cy="303.4" r="6.94"/><circle cx="530.0" cy="303.4" r="6.94"/><circle cx="530.4" cy="303.4" r="6.94"/><circle cx="530.7" cy="303.4" r="6.94"/><circle cx="531.1" cy="303.4" r="6.94"/><circle cx="531.4" cy="303.4" r="6.94"/>
<circle cx="531.8" cy="303.4" r="6.94"/><circle cx="532.1" cy="303.4" r="6.94"/><circle cx="532.5" cy="303.4" r="6.94"/><circle cx="532.8" cy="303.4" r="6.94"/><circle cx="533.2" cy="299.4" r="6.94"/><circle cx="533.6" cy="299.4" r="6.94"/>
<circle cx="534.0" cy="299.4" r="6.94"/><circle cx="534.4" cy="299.4" r="6.94"/><circle cx="534.7" cy="299.4" r="6.94"/><circle cx="535.1" cy="299.4" r="6.94"/><circle cx="535.5" cy="299.4" r="6.94"/><circle cx="535.9" cy="299.4" r="6.94"/>
<circle cx="536.3" cy="299.4" r="6.94"/><circle cx="536.7" cy="299.4" r="6.94"/><circle cx="537.1" cy="299.4" r="6.94"/><circle cx="537.4" cy="299.4" r="6.94"/><circle cx="537.8" cy="299.4" r="6.94"/><circle cx="538.2" cy="299.4" r="6.94"/>
<circle cx="538.6" cy="299.4" r="6.94"/><circle cx="539.0" cy="299.4" r="6.94"/><circle cx="539.4" cy="299.4" r="6.94"/><circle cx="539.8" cy="299.4" r="6.94"/><circle cx="540.1" cy="299.4" r="6.94"/><circle cx="540.5" cy="299.4" r="6.94"/>
<circle cx="540.9" cy="299.4" r="6.94"/><circle cx="541.3" cy="299.4" r="6.94"/><circle cx="541.7" cy="299.4" r="6.94"/><circle cx="542.1" cy="299.4" r="6.94"/><circle cx="542.5" cy="299.4" r="6.94"/><circle cx="542.9" cy="299.4" r="6.94"/>
<circle cx="543.2" cy="299.4" r="6.94"/><circle cx="543.6" cy="299.4" r="6.94"/><circle cx="544.0" cy="299.4" r="6.94"/><circle cx="544.4" cy="299.4" r="6.94"/><circle cx="544.8" cy="299.4" r="6.94"/><circle cx="545.2" cy="299.4" r="6.94"/>
<circle cx="545.6" cy="299.4" r="6.94"/><circle cx="545.9" cy="299.4" r="6.94"/><circle cx="546.3" cy="299.4" r="6.94"/><circle cx="546.7" cy="299.4" r="6.94"/><circle cx="547.1" cy="299.4" r="6.94"/><circle cx="547.5" cy="299.4" r="6.94"/>
<circle cx="547.9" cy="299.4" r="6.94"/><circle cx="548.3" cy="299.4" r="6.94"/><circle cx="548.6" cy="299.4" r="6.94"/><circle cx="549.0" cy="299.4" r="6.94"/><circle cx="549.4" cy="299.4" r="6.94"/><circle cx="549.8" cy="299.4" r="6.94"/>
<circle cx="550.2" cy="295.4" r="6.94"/><circle cx="550.6" cy="295.4" r="6.94"/><circle cx="550.9" cy="295.4" r="6.94"/><circle cx="551.3" cy="295.4" r="6.94"/><circle cx="551.7" cy="295.4" r="6.94"/><circle cx="552.1" cy="295.4" r="6.94"/>
<circle cx="552.4" cy="295.4" r="6.94"/><circle cx="552.8" cy="295.4" r="6.94"/><circle cx="553.2" cy="295.4" r="6.94"/><circle cx="553.6" cy="295.4" r="6.94"/><circle cx="553.9" cy="295.4" r="6.94"/><circle cx="554.3" cy="295.4" r="6.94"/>
<circle cx="554.7" cy="295.4" r="6.94"/><circle cx="555.1" cy="295.4" r="6.94"/><circle cx="555.4" cy="295.4" r="6.94"/><circle cx="555.8" cy="295.4" r="6.94"/><circle cx="556.2" cy="295.4" r="6.94"/><circle cx="556.6" cy="295.4" r="6.94"/>
<circle cx="556.9" cy="295.4" r="6.94"/><circle cx="557.3" cy="295.4" r="6.94"/><circle cx="557.7" cy="295.4" r="6.94"/><circle cx="558.1" cy="295.4" r="6.94"/><circle cx="558.4" cy="295.4" r="6.94"/><circle cx="558.8" cy="295.4" r="6.94"/>
<circle cx="559.2" cy="295.4" r="6.94"/><circle cx="559.6" cy="295.4" r="6.94"/><circle cx="559.9" cy="295.4" r="6.94"/><circle cx="560.3" cy="295.4" r="6.94"/><circle cx="560.7" cy="295.4" r="6.94"/><circle cx="561.1" cy="295.4" r="6.94"/>
<circle cx="561.4" cy="295.4" r="6.94"/><circle cx="561.8" cy="295.4" r="6.94"/><circle cx="562.2" cy="295.4" r="6.94"/><circle cx="562.6" cy="295.4" r="6.94"/><circle cx="562.9" cy="295.4" r="6.94"/><circle cx="563.3" cy="295.4" r="6.94"/>
<circle cx="563.7" cy="295.4" r="6.94"/><circle cx="564.1" cy="295.4" r="6.94"/><circle cx="564.4" cy="295.4" r="6.94"/><circle cx="564.8" cy="295.4" r="6.94"/><circle cx="565.2" cy="291.5" r="6.94"/><circle cx="565.6" cy="291.5" r="6.94"/>
<circle cx="566.0" cy="291.5" r="6.94"/><circle cx="566.3" cy="291.5" r="6.94"/><circle cx="566.7" cy="291.5" r="6.94"/><circle cx="567.1" cy="291.5" r="6.94"/><circle cx="567.5" cy="291.5" r="6.94"/><circle cx="567.9" cy="291.5" r="6.94"/>
<circle cx="568.2" cy="291.5" r="6.94"/><circle cx="568.6" cy="291.5" r="6.94"/><circle cx="569.0" cy="291.5" r="6.94"/><circle cx="569.4" cy="291.5" r="6.94"/><circle cx="569.8" cy="291.5" r="6.94"/><circle cx="570.1" cy="291.5" r="6.94"/>
<circle cx="570.5" cy="291.5" r="6.94"/><circle cx="570.9" cy="291.5" r="6.94"/><circle cx="571.3" cy="291.5" r="6.94"/><circle cx="571.7" cy="291.5" r="6.94"/><circle cx="572.0" cy="291.5" r="6.94"/><circle cx="572.4" cy="291.5" r="6.94"/>
<circle cx="572.8" cy="291.5" r="6.94"/><circle cx="573.2" cy="291.5" r="6.94"/><circle cx="573.6" cy="291.5" r="6.94"/><circle cx="574.0" cy="291.5" r="6.94"/><circle cx="574.3" cy="291.5" r="6.94"/><circle cx="574.7" cy="291.5" r="6.94"/>
<circle cx="575.1" cy="291.5" r="6.94"/><circle cx="575.5" cy="291.5" r="6.94"/><circle cx="575.9" cy="291.5" r="6.94"/><circle cx="576.2" cy="291.5" r="6.94"/><circle cx="576.6" cy="291.5" r="6.94"/><circle cx="577.0" cy="291.5" r="6.94"/>
<circle cx="577.4" cy="291.5" r="6.94"/><circle cx="577.8" cy="291.5" r="6.94"/><circle cx="578.1" cy="291.5" r="6.94"/><circle cx="578.5" cy="291.5" r="6.94"/><circle cx="578.9" cy="291.5" r="6.94"/><circle cx="579.3" cy="291.5" r="6.94"/>
<circle cx="579.7" cy="291.5" r="6.94"/><circle cx="580.0" cy="291.5" r="6.94"/><circle cx="580.4" cy="291.5" r="6.94"/><circle cx="580.8" cy="291.5" r="6.94"/><circle cx="581.2" cy="287.5" r="6.94"/><circle cx="581.6" cy="287.5" r="6.94"/>
<circle cx="582.0" cy="287.5" r="6.94"/><circle cx="582.4" cy="287.5" r="6.94"/><circle cx="582.8" cy="287.5" r="6.94"/><circle cx="583.2" cy="287.5" r="6.94"/><circle cx="583.6" cy="287.5" r="6.94"/><circle cx="584.0" cy="287.5" r="6.94"/>
<circle cx="584.5" cy="287.5" r="6.94"/><circle cx="584.9" cy="287.5" r="6.94"/><circle cx="585.3" cy="287.5" r="6.94"/><circle cx="585.7" cy="287.5" r="6.94"/><circle cx="586.1" cy="287.5" r="6.94"/><circle cx="586.5" cy="287.5" r="6.94"/>
<circle cx="586.9" cy="287.5" r="6.94"/><circle cx="587.3" cy="287.5" r="6.94"/><circle cx="587.7" cy="287.5" r="6.94"/><circle cx="588.1" cy="287.5" r="6.94"/><circle cx="588.5" cy="287.5" r="6.94"/><circle cx="588.9" cy="287.5" r="6.94"/>
<circle cx="589.3" cy="287.5" r="6.94"/><circle cx="589.7" cy="287.5" r="6.94"/><circle cx="590.1" cy="287.5" r="6.94"/><circle cx="590.5" cy="287.5" r="6.94"/><circle cx="590.9" cy="287.5" r="6.94"/><circle cx="591.4" cy="287.5" r="6.94"/>
<circle cx="591.8" cy="287.5" r="6.94"/><circle cx="592.2" cy="287.5" r="6.94"/><circle cx="592.6" cy="287.5" r="6.94"/><circle cx="593.0" cy="287.5" r="6.94"/><circle cx="593.4" cy="287.5" r="6.94"/><circle cx="593.8" cy="287.5" r="6.94"/>
<circle cx="594.2" cy="287.5" r="6.94"/><circle cx="594.6" cy="287.5" r="6.94"/><circle cx="595.0" cy="287.5" r="6.94"/><circle cx="595.4" cy="287.5" r="6.94"/><circle cx="595.8" cy="287.5" r="6.94"/><circle cx="596.2" cy="287.5" r="6.94"/>
<circle cx="596.6" cy="287.5" r="6.94"/><circle cx="597.0" cy="287.5" r="6.94"/><circle cx="597.4" cy="287.5" r="6.94"/><circle cx="597.8" cy="287.5" r="6.94"/><circle cx="598.2" cy="287.5" r="6.94"/><circle cx="598.7" cy="287.5" r="6.94"/>
<circle cx="599.1" cy="287.5" r="6.94"/><circle cx="599.5" cy="287.5" r="6.94"/><circle cx="599.9" cy="287.5" r="6.94"/><circle cx="600.3" cy="287.5" r="6.94"/><circle cx="600.7" cy="287.5" r="6.94"/><circle cx="601.1" cy="287.5" r="6.94"/>
<circle cx="601.5" cy="287.5" r="6.94"/><circle cx="601.9" cy="287.5" r="6.94"/><circle cx="602.3" cy="287.5" r="6.94"/><circle cx="602.7" cy="287.5" r="6.94"/><circle cx="603.1" cy="287.5" r="6.94"/><circle cx="603.5" cy="287.5" r="6.94"/>
<circle cx="603.9" cy="287.5" r="6.94"/><circle cx="604.3" cy="287.5" r="6.94"/><circle cx="604.7" cy="287.5" r="6.94"/><circle cx="605.1" cy="287.5" r="6.94"/><circle cx="605.6" cy="287.5" r="6.94"/><circle cx="606.0" cy="287.5" r="6.94"/>
<circle cx="606.4" cy="287.5" r="6.94"/><circle cx="606.8" cy="287.5" r="6.94"/><circle cx="607.2" cy="287.5" r="6.94"/><circle cx="607.6" cy="287.5" r="6.94"/><circle cx="608.0" cy="287.5" r="6.94"/><circle cx="608.4" cy="287.5" r="6.94"/>
<circle cx="608.8" cy="287.5" r="6.94"/><circle cx="609.2" cy="287.5" r="6.94"/><circle cx="609.6" cy="287.5" r="6.94"/><circle cx="610.0" cy="287.5" r="6.94"/><circle cx="610.4" cy="287.5" r="6.94"/><circle cx="610.8" cy="287.5" r="6.94"/>
<circle cx="611.2" cy="287.5" r="6.94"/><circle cx="611.6" cy="287.5" r="6.94"/><circle cx="612.0" cy="287.5" r="6.94"/><circle cx="612.5" cy="287.5" r="6.94"/><circle cx="612.9" cy="287.5" r="6.94"/><circle cx="613.3" cy="287.5" r="6.94"/>
<circle cx="613.7" cy="287.5" r="6.94"/><circle cx="614.1" cy="287.5" r="6.94"/><circle cx="614.5" cy="287.5" r="6.94"/><circle cx="614.9" cy="287.5" r="6.94"/><circle cx="615.3" cy="287.5" r="6.94"/><circle cx="615.7" cy="287.5" r="6.94"/>
<circle cx="616.1" cy="287.5" r="6.94"/><circle cx="616.5" cy="287.5" r="6.94"/><circle cx="616.9" cy="287.5" r="6.94"/><circle cx="617.3" cy="287.5" r="6.94"/><circle cx="617.7" cy="287.5" r="6.94"/><circle cx="618.1" cy="287.5" r="6.94"/>
<circle cx="618.5" cy="287.5" r="6.94"/><circle cx="619.0" cy="287.5" r="6.94"/><circle cx="619.4" cy="287.5" r="6.94"/><circle cx="619.8" cy="287.5" r="6.94"/><circle cx="620.2" cy="287.5" r="6.94"/><circle cx="620.6" cy="287.5" r="6.94"/>
<circle cx="621.0" cy="287.5" r="6.94"/><circle cx="621.4" cy="287.5" r="6.94"/><circle cx="621.8" cy="287.5" r="6.94"/><circle cx="622.2" cy="287.5" r="6.94"/><circle cx="622.6" cy="287.5" r="6.94"/><circle cx="623.0" cy="287.5" r="6.94"/>
<circle cx="623.4" cy="287.5" r="6.94"/><circle cx="623.8" cy="287.5" r="6.94"/><circle cx="624.2" cy="287.5" r="6.94"/><circle cx="624.6" cy="287.5" r="6.94"/><circle cx="625.0" cy="287.5" r="6.94"/><circle cx="625.4" cy="287.5" r="6.94"/>
<circle cx="625.9" cy="287.5" r="6.94"/><circle cx="626.3" cy="287.5" r="6.94"/><circle cx="626.7" cy="287.5" r="6.94"/><circle cx="627.1" cy="287.5" r="6.94"/><circle cx="627.5" cy="287.5" r="6.94"/><circle cx="627.9" cy="287.5" r="6.94"/>
<circle cx="628.3" cy="287.5" r="6.94"/><circle cx="628.7" cy="287.5" r="6.94"/><circle cx="629.1" cy="287.5" r="6.94"/><circle cx="629.5" cy="287.5" r="6.94"/><circle cx="629.9" cy="287.5" r="6.94"/><circle cx="630.3" cy="287.5" r="6.94"/>
<circle cx="630.7" cy="287.5" r="6.94"/><circle cx="631.1" cy="287.5" r="6.94"/><circle cx="631.5" cy="287.5" r="6.94"/><circle cx="631.9" cy="287.5" r="6.94"/><circle cx="632.3" cy="287.5" r="6.94"/><circle cx="632.8" cy="287.5" r="6.94"/>
<circle cx="633.2" cy="287.5" r="6.94"/><circle cx="633.6" cy="287.5" r="6.94"/><circle cx="634.0" cy="287.5" r="6.94"/><circle cx="634.4" cy="287.5" r="6.94"/><circle cx="634.8" cy="287.5" r="6.94"/><circle cx="635.2" cy="287.5" r="6.94"/>
<circle cx="635.6" cy="287.5" r="6.94"/><circle cx="636.0" cy="287.5" r="6.94"/><circle cx="636.4" cy="287.5" r="6.94"/><circle cx="636.8" cy="287.5" r="6.94"/><circle cx="637.2" cy="287.5" r="6.94"/><circle cx="637.6" cy="287.5" r="6.94"/>
<circle cx="638.0" cy="287.5" r="6.94"/><circle cx="638.4" cy="287.5" r="6.94"/><circle cx="638.8" cy="287.5" r="6.94"/><circle cx="639.2" cy="287.5" r="6.94"/><circle cx="639.6" cy="287.5" r="6.94"/><circle cx="640.1" cy="287.5" r="6.94"/>
<circle cx="640.5" cy="287.5" r="6.94"/><circle cx="640.9" cy="287.5" r="6.94"/><circle cx="641.3" cy="287.5" r="6.94"/><circle cx="641.7" cy="287.5" r="6.94"/><circle cx="642.1" cy="287.5" r="6.94"/><circle cx="642.5" cy="287.5" r="6.94"/>
<circle cx="642.9" cy="287.5" r="6.94"/><circle cx="643.3" cy="287.5" r="6.94"/><circle cx="643.7" cy="287.5" r="6.94"/><circle cx="644.1" cy="287.5" r="6.94"/><circle cx="644.5" cy="287.5" r="6.94"/><circle cx="644.9" cy="287.5" r="6.94"/>
<circle cx="645.3" cy="287.5" r="6.94"/><circle cx="645.7" cy="287.5" r="6.94"/><circle cx="646.1" cy="287.5" r="6.94"/><circle cx="646.5" cy="287.5" r="6.94"/><circle cx="647.0" cy="287.5" r="6.94"/><circle cx="647.4" cy="287.5" r="6.94"/>
<circle cx="647.8" cy="287.5" r="6.94"/><circle cx="648.2" cy="287.5" r="6.94"/><circle cx="648.6" cy="287.5" r="6.94"/><circle cx="649.0" cy="287.5" r="6.94"/><circle cx="649.4" cy="287.5" r="6.94"/><circle cx="649.8" cy="287.5" r="6.94"/>
<circle cx="650.2" cy="283.5" r="6.94"/><circle cx="650.6" cy="283.5" r="6.94"/><circle cx="651.1" cy="283.5" r="6.94"/><circle cx="651.5" cy="283.5" r="6.94"/><circle cx="651.9" cy="283.5" r="6.94"/><circle cx="652.3" cy="283.5" r="6.94"/>
<circle cx="652.8" cy="283.5" r="6.94"/><circle cx="653.2" cy="283.5" r="6.94"/><circle cx="653.6" cy="283.5" r="6.94"/><circle cx="654.0" cy="283.5" r="6.94"/><circle cx="654.5" cy="283.5" r="6.94"/><circle cx="654.9" cy="283.5" r="6.94"/>
<circle cx="655.3" cy="283.5" r="6.94"/><circle cx="655.7" cy="283.5" r="6.94"/><circle cx="656.2" cy="283.5" r="6.94"/><circle cx="656.6" cy="283.5" r="6.94"/><circle cx="657.0" cy="283.5" r="6.94"/><circle cx="657.4" cy="283.5" r="6.94"/>
<circle cx="657.9" cy="283.5" r="6.94"/><circle cx="658.3" cy="283.5" r="6.94"/><circle cx="658.7" cy="283.5" r="6.94"/><circle cx="659.1" cy="283.5" r="6.94"/><circle cx="659.6" cy="283.5" r="6.94"/><circle cx="660.0" cy="283.5" r="6.94"/>
<circle cx="660.4" cy="283.5" r="6.94"/><circle cx="660.8" cy="283.5" r="6.94"/><circle cx="661.3" cy="283.5" r="6.94"/><circle cx="661.7" cy="283.5" r="6.94"/><circle cx="662.1" cy="283.5" r="6.94"/><circle cx="662.5" cy="283.5" r="6.94"/>
<circle cx="663.0" cy="283.5" r="6.94"/><circle cx="663.4" cy="283.5" r="6.94"/><circle cx="663.8" cy="283.5" r="6.94"/><circle cx="664.2" cy="283.5" r="6.94"/><circle cx="664.7" cy="283.5" r="6.94"/><circle cx="665.1" cy="283.5" r="6.94"/>
<circle cx="665.5" cy="283.5" r="6.94"/><circle cx="665.9" cy="283.5" r="6.94"/><circle cx="666.4" cy="283.5" r="6.94"/><circle cx="666.8" cy="283.5" r="6.94"/><circle cx="667.2" cy="283.5" r="6.94"/><circle cx="667.6" cy="283.5" r="6.94"/>
<circle cx="668.1" cy="283.5" r="6.94"/><circle cx="668.5" cy="283.5" r="6.94"/><circle cx="668.9" cy="283.5" r="6.94"/><circle cx="669.3" cy="283.5" r="6.94"/><circle cx="669.8" cy="283.5" r="6.94"/><circle cx="670.2" cy="283.5" r="6.94"/>
<circle cx="670.6" cy="283.5" r="6.94"/><circle cx="671.0" cy="283.5" r="6.94"/><circle cx="671.5" cy="283.5" r="6.94"/><circle cx="671.9" cy="283.5" r="6.94"/><circle cx="672.3" cy="283.5" r="6.94"/><circle cx="672.7" cy="283.5" r="6.94"/>
<circle cx="673.2" cy="283.5" r="6.94"/><circle cx="673.6" cy="283.5" r="6.94"/><circle cx="674.0" cy="283.5" r="6.94"/><circle cx="674.4" cy="283.5" r="6.94"/><circle cx="674.9" cy="283.5" r="6.94"/><circle cx="675.3" cy="283.5" r="6.94"/>
<circle cx="675.7" cy="283.5" r="6.94"/><circle cx="676.1" cy="283.5" r="6.94"/><circle cx="676.6" cy="283.5" r="6.94"/><circle cx="677.0" cy="283.5" r="6.94"/><circle cx="677.4" cy="283.5" r="6.94"/><circle cx="677.8" cy="283.5" r="6.94"/>
<circle cx="678.3" cy="283.5" r="6.94"/><circle cx="678.7" cy="283.5" r="6.94"/><circle cx="679.1" cy="283.5" r="6.94"/><circle cx="679.5" cy="283.5" r="6.94"/><circle cx="680.0" cy="283.5" r="6.94"/><circle cx="680.4" cy="283.5" r="6.94"/>
<circle cx="680.8" cy="283.5" r="6.94"/><circle cx="681.2" cy="283.5" r="6.94"/><circle cx="681.7" cy="283.5" r="6.94"/><circle cx="682.1" cy="283.5" r="6.94"/><circle cx="682.5" cy="283.5" r="6.94"/><circle cx="682.9" cy="283.5" r="6.94"/>
<circle cx="683.4" cy="283.5" r="6.94"/><circle cx="683.8" cy="283.5" r="6.94"/><circle cx="684.2" cy="283.5" r="6.94"/><circle cx="684.6" cy="283.5" r="6.94"/><circle cx="685.1" cy="283.5" r="6.94"/><circle cx="685.5" cy="283.5" r="6.94"/>
<circle cx="685.9" cy="283.5" r="6.94"/><circle cx="686.3" cy="283.5" r="6.94"/><circle cx="686.8" cy="283.5" r="6.94"/><circle cx="687.2" cy="283.5" r="6.94"/><circle cx="687.6" cy="283.5" r="6.94"/><circle cx="688.0" cy="283.5" r="6.94"/>
<circle cx="688.5" cy="283.5" r="6.94"/><circle cx="688.9" cy="283.5" r="6.94"/><circle cx="689.3" cy="283.5" r="6.94"/><circle cx="689.7" cy="283.5" r="6.94"/><circle cx="690.2" cy="283.5" r="6.94"/><circle cx="690.6" cy="283.5" r="6.94"/>
<circle cx="691.0" cy="283.5" r="6.94"/><circle cx="691.4" cy="283.5" r="6.94"/><circle cx="691.9" cy="283.5" r="6.94"/><circle cx="692.3" cy="283.5" r="6.94"/><circle cx="692.7" cy="283.5" r="6.94"/><circle cx="693.1" cy="283.5" r="6.94"/>
<circle cx="693.6" cy="283.5" r="6.94"/><circle cx="694.0" cy="283.5" r="6.94"/><circle cx="694.4" cy="283.5" r="6.94"/><circle cx="694.8" cy="283.5" r="6.94"/><circle cx="695.3" cy="283.5" r="6.94"/><circle cx="695.7" cy="283.5" r="6.94"/>
<circle cx="696.1" cy="283.5" r="6.94"/><circle cx="696.5" cy="283.5" r="6.94"/><circle cx="697.0" cy="283.5" r="6.94"/><circle cx="697.4" cy="283.5" r="6.94"/><circle cx="697.8" cy="283.5" r="6.94"/><circle cx="698.2" cy="283.5" r="6.94"/>
<circle cx="698.7" cy="283.5" r="6.94"/><circle cx="699.1" cy="283.5" r="6.94"/><circle cx="699.5" cy="283.5" r="6.94"/><circle cx="699.9" cy="283.5" r="6.94"/><circle cx="700.4" cy="283.5" r="6.94"/><circle cx="700.8" cy="283.5" r="6.94"/>
<circle cx="701.2" cy="283.5" r="6.94"/><circle cx="701.6" cy="283.5" r="6.94"/><circle cx="702.1" cy="283.5" r="6.94"/><circle cx="702.5" cy="283.5" r="6.94"/><circle cx="702.9" cy="283.5" r="6.94"/><circle cx="703.3" cy="283.5" r="6.94"/>
<circle cx="703.8" cy="283.5" r="6.94"/><circle cx="704.2" cy="283.5" r="6.94"/><circle cx="704.6" cy="283.5" r="6.94"/><circle cx="705.0" cy="283.5" r="6.94"/><circle cx="705.5" cy="283.5" r="6.94"/><circle cx="705.9" cy="283.5" r="6.94"/>
<circle cx="706.3" cy="283.5" r="6.94"/><circle cx="706.7" cy="283.5" r="6.94"/><circle cx="707.2" cy="283.5" r="6.94"/><circle cx="707.6" cy="283.5" r="6.94"/><circle cx="708.0" cy="283.5" r="6.94"/><circle cx="708.4" cy="283.5" r="6.94"/>
<circle cx="708.9" cy="283.5" r="6.94"/><circle cx="709.3" cy="283.5" r="6.94"/><circle cx="709.7" cy="283.5" r="6.94"/><circle cx="710.1" cy="283.5" r="6.94"/><circle cx="710.6" cy="283.5" r="6.94"/><circle cx="711.0" cy="283.5" r="6.94"/>
<circle cx="711.4" cy="283.5" r="6.94"/><circle cx="711.8" cy="283.5" r="6.94"/><circle cx="712.3" cy="283.5" r="6.94"/><circle cx="712.7" cy="283.5" r="6.94"/><circle cx="713.1" cy="283.5" r="6.94"/><circle cx="713.5" cy="283.5" r="6.94"/>
<circle cx="714.0" cy="283.5" r="6.94"/><circle cx="714.4" cy="283.5" r="6.94"/><circle cx="714.8" cy="283.5" r="6.94"/><circle cx="715.2" cy="283.5" r="6.94"/><circle cx="715.7" cy="283.5" r="6.94"/><circle cx="716.1" cy="283.5" r="6.94"/>
<circle cx="716.5" cy="283.5" r="6.94"/><circle cx="716.9" cy="283.5" r="6.94"/><circle cx="717.4" cy="283.5" r="6.94"/><circle cx="717.8" cy="283.5" r="6.94"/><circle cx="718.2" cy="283.5" r="6.94"/><circle cx="718.6" cy="283.5" r="6.94"/>
<circle cx="719.1" cy="283.5" r="6.94"/><circle cx="719.5" cy="283.5" r="6.94"/><circle cx="719.9" cy="283.5" r="6.94"/><circle cx="720.3" cy="283.5" r="6.94"/><circle cx="720.8" cy="283.5" r="6.94"/><circle cx="721.2" cy="283.5" r="6.94"/>
<circle cx="721.6" cy="283.5" r="6.94"/><circle cx="722.0" cy="283.5" r="6.94"/><circle cx="722.5" cy="283.5" r="6.94"/><circle cx="722.9" cy="283.5" r="6.94"/><circle cx="723.3" cy="283.5" r="6.94"/><circle cx="723.7" cy="283.5" r="6.94"/>
<circle cx="724.2" cy="283.5" r="6.94"/><circle cx="724.6" cy="283.5" r="6.94"/><circle cx="725.0" cy="283.5" r="6.94"/><circle cx="725.4" cy="283.5" r="6.94"/><circle cx="725.9" cy="283.5" r="6.94"/><circle cx="726.3" cy="283.5" r="6.94"/>
<circle cx="726.7" cy="283.5" r="6.94"/><circle cx="727.1" cy="283.5" r="6.94"/><circle cx="727.6" cy="283.5" r="6.94"/><circle cx="728.0" cy="283.5" r="6.94"/><circle cx="728.4" cy="283.5" r="6.94"/><circle cx="728.8" cy="283.5" r="6.94"/>
<circle cx="729.3" cy="283.5" r="6.94"/><circle cx="729.7" cy="283.5" r="6.94"/><circle cx="730.1" cy="283.5" r="6.94"/><circle cx="730.5" cy="283.5" r="6.94"/><circle cx="731.0" cy="283.5" r="6.94"/><circle cx="731.4" cy="283.5" r="6.94"/>
<circle cx="731.8" cy="283.5" r="6.94"/><circle cx="732.2" cy="283.5" r="6.94"/><circle cx="732.7" cy="283.5" r="6.94"/><circle cx="733.1" cy="283.5" r="6.94"/><circle cx="733.5" cy="283.5" r="6.94"/><circle cx="733.9" cy="283.5" r="6.94"/>
<circle cx="734.4" cy="283.5" r="6.94"/><circle cx="734.8" cy="283.5" r="6.94"/>
</g>
<g clip-path="url(#ax)" fill="none" stroke-width="4.17">
<line x1="99.8" y1="385.8" x2="809" y2="257.8" stroke="#f00" stroke-opacity="0.34"/>
<line x1="35.81" y1="910.36" x2="860.48" y2="91.54" stroke="#00f" stroke-opacity="0.34"/>
</g>
<rect x="67.5" y="110.5" width="775.0" height="770.0" fill="none" stroke="#000" stroke-width="1.1"/>
<g stroke="#000" stroke-width="1.1">
<line x1="96.5" y1="881.0" x2="96.5" y2="885.9"/><line x1="197.5" y1="881.0" x2="197.5" y2="885.9"/><line x1="297.5" y1="881.0" x2="297.5" y2="885.9"/><line x1="398.5" y1="881.0" x2="398.5" y2="885.9"/><line x1="498.5" y1="881.0" x2="498.5" y2="885.9"/><line x1="599.5" y1="881.0" x2="599.5" y2="885.9"/><line x1="700.5" y1="881.0" x2="700.5" y2="885.9"/><line x1="800.5" y1="881.0" x2="800.5" y2="885.9"/>
<line x1="67.0" y1="850.5" x2="62.1" y2="850.5"/><line x1="67.0" y1="751.5" x2="62.1" y2="751.5"/><line x1="67.0" y1="651.5" x2="62.1" y2="651.5"/><line x1="67.0" y1="551.5" x2="62.1" y2="551.5"/><line x1="67.0" y1="451.5" x2="62.1" y2="451.5"/><line x1="67.0" y1="351.5" x2="62.1" y2="351.5"/><line x1="67.0" y1="251.5" x2="62.1" y2="251.5"/><line x1="67.0" y1="151.5" x2="62.1" y2="151.5"/>
</g>
<text transform="translate(82.95,901.10) scale(0.9300,1)" font-size="14.7" x="0.59 10.13 19.60">175</text>
<text transform="translate(183.95,901.10) scale(0.9300,1)" font-size="14.7" x="0.46 10.16 19.66">200</text>
<text transform="translate(283.95,901.10) scale(0.9300,1)" font-size="14.7" x="0.46 9.96 19.60">225</text>
<text transform="translate(384.95,901.10) scale(0.9300,1)" font-size="14.7" x="0.46 10.10 19.66">250</text>
<text transform="translate(484.95,901.10) scale(0.9300,1)" font-size="14.7" x="0.46 10.13 19.60">275</text>
<text transform="translate(585.95,901.10) scale(0.9300,1)" font-size="14.7" x="0.68 10.16 19.66">300</text>
<text transform="translate(686.95,901.10) scale(0.9300,1)" font-size="14.7" x="0.68 9.96 19.60">325</text>
<text transform="translate(786.95,901.10) scale(0.9300,1)" font-size="14.7" x="0.68 10.10 19.66">350</text>
<text transform="translate(30.59,856.00) scale(0.9300,1)" font-size="14.7" x="0.59 10.13 19.60">175</text>
<text transform="translate(30.59,756.00) scale(0.9300,1)" font-size="14.7" x="0.46 10.16 19.66">200</text>
<text transform="translate(30.59,656.00) scale(0.9300,1)" font-size="14.7" x="0.46 9.96 19.60">225</text>
<text transform="translate(30.59,556.00) scale(0.9300,1)" font-size="14.7" x="0.46 10.10 19.66">250</text>
<text transform="translate(30.59,457.00) scale(0.9300,1)" font-size="14.7" x="0.46 10.13 19.60">275</text>
<text transform="translate(30.59,357.00) scale(0.9300,1)" font-size="14.7" x="0.68 10.16 19.66">300</text>
<text transform="translate(30.59,257.00) scale(0.9300,1)" font-size="14.7" x="0.68 9.96 19.60">325</text>
<text transform="translate(30.59,157.00) scale(0.9300,1)" font-size="14.7" x="0.68 10.10 19.66">350</text>
<text transform="translate(412.29,920.70) scale(1.0000,1)" font-size="17.1" x="-0.32 11.00 16.25 31.94 42.42 46.37 57.70 63.79 74.07">Simulated</text>
<text transform="translate(22.30,535.69) rotate(-90) scale(1.0000,1)" font-size="17.1" x="-0.09 13.76 23.88 32.79 43.55 50.15 59.76 70.04">Observed</text>
<text transform="translate(148.65,24.60) scale(1.0000,1)" font-size="20.3" x="-0.24 15.97 23.34 38.88 45.71 57.85 63.11 75.64 82.32 88.09 101.36 108.04 114.68 119.75 130.02 136.38 140.92 153.81 165.99 178.05 188.73 200.01 205.95 213.66 224.50 230.09 242.50 254.52 261.09 273.22 285.69 297.53 304.56 310.86 323.44 330.44 337.03 349.27 361.47 377.32 389.70 404.57 417.90 424.97 436.16 447.07 452.33 464.48 476.65 489.20 504.07 517.08 528.29 539.13 550.45 556.89 562.32 574.80">Q-Q plot at is.landsvirkjun.b10 for downward_longwave_flux</text>
<text transform="translate(286.86,47.90) scale(1.0000,1)" font-size="20.3" x="0.85 7.84 14.72 27.38 45.25 52.42 59.01 72.02 83.13 95.34 102.67 115.14 127.10 134.42 146.80 158.73 165.32 177.73 190.57 198.03 203.53 215.71 227.64 233.40 246.21 259.00 266.16 279.07 297.51">from rav2-10-11 during autumn</text>
</svg>
</body></html>
